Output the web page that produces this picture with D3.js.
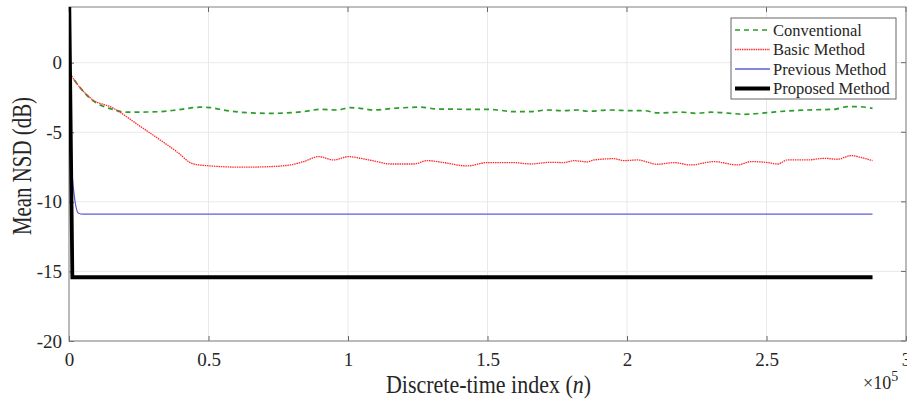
<!DOCTYPE html>
<html>
<head>
<meta charset="utf-8">
<title>Mean NSD</title>
<script src="https://d3js.org/d3.v7.min.js"></script>
<style>
  body { margin: 0; background: #fff; }
  svg text { font-family: "Liberation Serif", "Times New Roman", serif; fill: #262626; }
</style>
</head>
<body>
<div id="chart"></div>
<script>
// n in thousands of samples, value in dB
const conventional = [
  [0, -0.7], [4, -1.8], [8.7, -2.75], [14.7, -3.3], [20.7, -3.56], [26.5, -3.55],
  [32.7, -3.52], [38.6, -3.40], [47, -3.2], [50.6, -3.23], [56.6, -3.45], [63.8, -3.59],
  [72.1, -3.64], [84.1, -3.52], [90.1, -3.35], [96.1, -3.4], [100.8, -3.23], [104.4, -3.28],
  [109.2, -3.4], [116.4, -3.28], [126, -3.2], [132, -3.33], [143.9, -3.35], [149.9, -3.35],
  [153.5, -3.4], [159.4, -3.52], [165.4, -3.52], [171.4, -3.4], [177.4, -3.45], [182.2, -3.4],
  [185.8, -3.49], [194.1, -3.4], [201.3, -3.45], [206.1, -3.45], [210.9, -3.61], [219.3, -3.56],
  [225.2, -3.64], [230, -3.56], [237.2, -3.64], [242, -3.71], [250.4, -3.59], [257.5, -3.47],
  [264.7, -3.4], [274.3, -3.35], [279, -3.16], [282.7, -3.16], [288, -3.28]
];
const basic = [
  [0, -0.7], [4, -1.8], [8.7, -2.7], [14.7, -3.16], [26.5, -4.71], [38.6, -6.39],
  [44.6, -7.28], [50.6, -7.42], [62.4, -7.51], [72.1, -7.47], [79.3, -7.35], [84.1, -7.11],
  [89.5, -6.75], [94.8, -6.99], [100.2, -6.75], [104.4, -6.87], [110.4, -7.11], [115.2, -7.28],
  [123.6, -7.28], [128.4, -7.04], [134.3, -7.18], [142.7, -7.42], [149.9, -7.18], [153.5, -7.18],
  [159.4, -7.18], [165.4, -7.28], [172.6, -7.16], [177.4, -7.18], [181, -7.04], [185.8, -7.13],
  [188.1, -6.99], [195.3, -6.9], [198.9, -7.04], [203.7, -6.99], [210.9, -7.3], [216.9, -7.18],
  [222.8, -7.35], [231.2, -7.11], [239.6, -7.35], [244.4, -7.11], [250.4, -7.18], [254, -7.28],
  [257.5, -6.99], [264.7, -6.99], [270.7, -6.87], [275.5, -6.94], [280.3, -6.68], [285, -6.87],
  [288, -7.04]
];
const previous = [[0, -5.0], [1.5, -8.9], [3.3, -10.8], [5, -10.89], [288, -10.89]];
const proposed = [[0, 6], [1.2, -15.42], [288, -15.42]];

const xTicks = [0, 50, 100, 150, 200, 250, 300];
const xTickLabels = ["0", "0.5", "1", "1.5", "2", "2.5", "3"];
const yTicks = [-20, -15, -10, -5, 0];
const yTickLabels = ["-20", "-15", "-10", "-5", "0"];

const series = [
  { name: "Conventional", data: conventional, color: "#2a9d2a", width: 1.7, dash: "5,4", curve: true },
  { name: "Basic Method", data: basic, color: "#ff2a2a", width: 1.3, dash: "1.5,0.8", curve: true },
  { name: "Previous Method", data: previous, color: "#5c5cd8", width: 1.3, dash: null, curve: true },
  { name: "Proposed Method", data: proposed, color: "#000000", width: 3.8, dash: null, curve: false }
];

const W = 907, H = 401;
const margin = { top: 7, right: 1, bottom: 60, left: 69 };
const w = W - margin.left - margin.right;
const h = H - margin.top - margin.bottom;

const svg = d3.select("#chart").append("svg")
  .attr("width", W).attr("height", H);
const g = svg.append("g")
  .attr("transform", "translate(" + margin.left + "," + margin.top + ")");

const x = d3.scaleLinear().domain([0, 300]).range([0, w]);
const y = d3.scaleLinear().domain([-20, 4]).range([h, 0]);

// grid
g.selectAll(".gx").data(xTicks).enter().append("line")
  .attr("x1", d => x(d)).attr("x2", d => x(d))
  .attr("y1", 0).attr("y2", h)
  .attr("stroke", "#e9e9e9").attr("stroke-width", 1);
g.selectAll(".gy").data(yTicks).enter().append("line")
  .attr("y1", d => y(d)).attr("y2", d => y(d))
  .attr("x1", 0).attr("x2", w)
  .attr("stroke", "#e9e9e9").attr("stroke-width", 1);

// axes (ticks inward)
const xAxis = d3.axisBottom(x).tickValues(xTicks)
  .tickFormat((d, i) => xTickLabels[i]).tickSizeInner(-5).tickSizeOuter(0).tickPadding(12);
const yAxis = d3.axisLeft(y).tickValues(yTicks)
  .tickFormat((d, i) => yTickLabels[i]).tickSizeInner(-5).tickSizeOuter(0).tickPadding(7);

const gx = g.append("g").attr("transform", "translate(0," + h + ")").call(xAxis);
const gy = g.append("g").call(yAxis);
[gx, gy].forEach(a => {
  a.attr("font-family", "Liberation Serif").attr("font-size", 19);
  a.select(".domain").remove();
  a.selectAll("line").attr("stroke", "#666");
  a.selectAll("text").attr("fill", "#262626");
});

// right and top ticks
g.selectAll(".rt").data(yTicks).enter().append("line")
  .attr("x1", w).attr("x2", w - 5).attr("y1", d => y(d)).attr("y2", d => y(d))
  .attr("stroke", "#666");
g.selectAll(".tt").data(xTicks).enter().append("line")
  .attr("x1", d => x(d)).attr("x2", d => x(d)).attr("y1", 0).attr("y2", 5)
  .attr("stroke", "#666");

// box
g.append("rect").attr("width", w).attr("height", h)
  .attr("fill", "none").attr("stroke", "#808080").attr("stroke-width", 1);

// clip
g.append("clipPath").attr("id", "clip").append("rect")
  .attr("width", w).attr("height", h);

const smooth = d3.line().x(d => x(d[0])).y(d => y(d[1])).curve(d3.curveMonotoneX);
const straight = d3.line().x(d => x(d[0])).y(d => y(d[1]));
const plot = g.append("g").attr("clip-path", "url(#clip)");
series.forEach(s => {
  plot.append("path").datum(s.data)
    .attr("d", s.curve ? smooth : straight)
    .attr("fill", "none")
    .attr("stroke", s.color)
    .attr("stroke-width", s.width)
    .attr("stroke-dasharray", s.dash);
});

// legend
const lg = svg.append("g").attr("transform", "translate(731,18)");
lg.append("rect").attr("width", 165).attr("height", 81)
  .attr("fill", "#fff").attr("stroke", "#666").attr("stroke-width", 1);
series.forEach((s, i) => {
  const yy = 12 + i * 19.5;
  lg.append("line").attr("x1", 4).attr("x2", 39).attr("y1", yy).attr("y2", yy)
    .attr("stroke", s.color).attr("stroke-width", s.width)
    .attr("stroke-dasharray", s.dash);
  lg.append("text").attr("x", 42).attr("y", yy + 5.5)
    .style("font-size", "16.5px").text(s.name);
});

// axis labels (reference glyphs are slightly narrow, so scale them)
svg.append("text")
  .attr("transform", "translate(" + (margin.left + w / 2 + 1) + ",393) scale(0.88,1)")
  .attr("text-anchor", "middle").style("font-size", "25px")
  .html('Discrete-time index (<tspan font-style="italic">n</tspan>)');
svg.append("text")
  .attr("transform", "translate(31,166) rotate(-90) scale(0.76,1)")
  .attr("text-anchor", "middle").style("font-size", "27.5px")
  .text("Mean NSD (dB)");
svg.append("text")
  .attr("x", 863).attr("y", 389).style("font-size", "18px")
  .html('×10<tspan dy="-8" font-size="14px">5</tspan>');
</script>
</body>
</html>
